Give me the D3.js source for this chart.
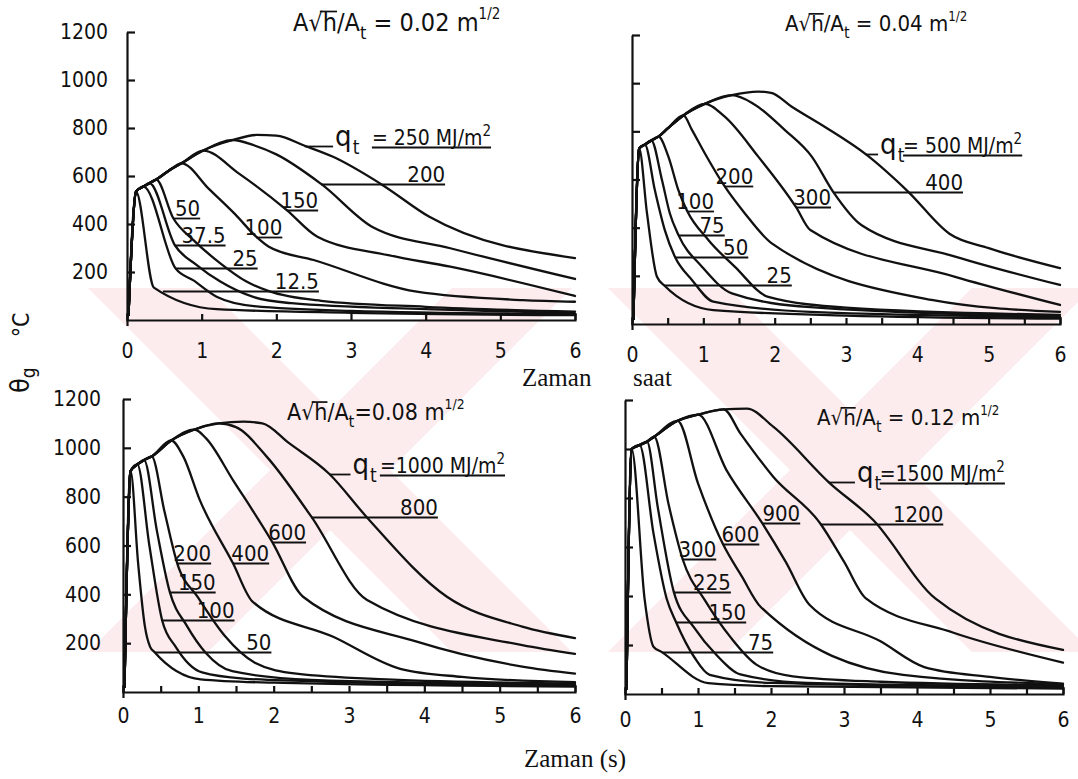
<!DOCTYPE html>
<html>
<head>
<meta charset="utf-8">
<script src="https://cdn.jsdelivr.net/npm/d3@7"></script>
<style>
  body { margin: 0; background: #fff; }
  svg { display: block; }
  .lab { font-family: 'DejaVu Sans Condensed', 'DejaVu Sans', sans-serif; font-stretch: condensed; fill: #111; }
  .serif { font-family: 'Liberation Serif', 'DejaVu Serif', serif; fill: #111; }
</style>
</head>
<body>
<svg id="chart" width="1078" height="779"></svg>
<script>
// time axis (hours) and temperature axis (°C)
const hourTicks = [0, 1, 2, 3, 4, 5, 6];
const tempTicks = [200, 400, 600, 800, 1000, 1200];

// ---- panel A: opening factor 0.02 ----
const ratioA = ' = 0.02 m';
const envA = [[0.02, 20], [0.12, 535], [0.22, 556], [0.30, 570], [0.39, 585], [0.55, 620], [0.73, 653], [1.02, 706], [1.42, 750], [1.74, 771]];
const curvesA = [
  { q: '12.5', pts: [[0.12, 535], [0.36, 135], [1.2, 45], [3, 30], [6, 20]] },
  { q: '25', pts: [[0.22, 556], [0.65, 215], [0.89, 165], [1.2, 97], [1.7, 58], [3, 38], [6, 24]] },
  { q: '37.5', pts: [[0.30, 570], [0.64, 312], [0.93, 230], [1.25, 160], [1.7, 95], [2.2, 70], [4, 45], [6, 28]] },
  { q: '50', pts: [[0.39, 585], [0.62, 424], [0.89, 333], [1.25, 236], [1.6, 160], [1.9, 120], [2.6, 80], [4, 55], [6, 35]] },
  { q: '100', pts: [[0.73, 653], [1.1, 545], [1.45, 440], [1.73, 347], [1.9, 305], [2.5, 250], [3.88, 118], [5.3, 83], [6, 76]] },
  { q: '150', pts: [[1.02, 706], [1.5, 610], [2.14, 458], [2.55, 347], [3.5, 270], [4.33, 222], [6, 100]] },
  { q: '200', pts: [[1.42, 750], [1.7, 728], [2.0, 690], [2.6, 567], [3.3, 385], [4.33, 299], [6, 171]] },
  { q: '250', pts: [[1.74, 771], [2.0, 768], [2.38, 726], [2.76, 680], [3.41, 565], [4.05, 430], [6, 258]] }
];
const labelsA = [
  { q: '200', T: 567, t1: 4.26 }, { q: '150', T: 458, t1: 2.56 }, { q: '100', T: 347, t1: 2.08 },
  { q: '50', T: 424, t1: 0.98 }, { q: '37.5', T: 312, t1: 1.32 }, { q: '25', T: 215, t1: 1.75 },
  { q: '12.5', T: 122, t1: 2.57 }
];
const qA = { q: '250', T: 726, tq: 2.76, teq: 3.28, text: '= 250 MJ/m' };

// ---- panel B: opening factor 0.04 ----
const ratioB = ' = 0.04 m';
const envB = [[0.02, 20], [0.10, 728], [0.18, 745], [0.27, 762], [0.37, 778], [0.5, 812], [0.72, 866], [1.02, 914], [1.40, 950], [1.77, 965]];
const curvesB = [
  { q: '25', pts: [[0.10, 728], [0.21, 460], [0.35, 196], [0.46, 158], [1.14, 58], [3, 35], [6, 22]] },
  { q: '50', pts: [[0.18, 745], [0.32, 556], [0.46, 390], [0.60, 280], [0.84, 183], [1.14, 93], [2.5, 50], [6, 28]] },
  { q: '75', pts: [[0.27, 762], [0.42, 598], [0.53, 460], [0.65, 370], [0.98, 238], [1.40, 127], [2.5, 70], [6, 32]] },
  { q: '100', pts: [[0.37, 778], [0.51, 695], [0.65, 556], [0.77, 471], [1.07, 349], [1.44, 238], [1.91, 113], [3, 68], [6, 38]] },
  { q: '200', pts: [[0.72, 866], [0.84, 806], [1.02, 709], [1.30, 571], [1.58, 460], [1.96, 335], [4.2, 100], [6, 50]] },
  { q: '300', pts: [[1.02, 914], [1.30, 861], [1.77, 695], [2.30, 485], [2.5, 390], [4.53, 196], [6, 79]] },
  { q: '400', pts: [[1.40, 950], [1.7, 915], [2.14, 806], [2.52, 695], [2.82, 549], [3.22, 410], [4.53, 280], [6, 162]] },
  { q: '500', pts: [[1.77, 965], [1.95, 960], [2.24, 902], [2.7, 819], [3.29, 702], [3.87, 550], [4.45, 375], [5, 315], [6, 232]] }
];
const labelsB = [
  { q: '400', T: 549, t1: 4.64 }, { q: '300', T: 485, t1: 2.79 }, { q: '200', T: 571, t1: 1.70 },
  { q: '100', T: 471, t1: 1.15 }, { q: '75', T: 370, t1: 1.30 }, { q: '50', T: 280, t1: 1.63 },
  { q: '25', T: 160, t1: 2.24 }
];
const qB = { q: '500', T: 705, tq: 3.45, teq: 3.8, text: '= 500 MJ/m' };

// ---- panel C: opening factor 0.08 ----
const ratioC = '=0.08 m';
const envC = [[0.02, 20], [0.10, 905], [0.19, 932], [0.28, 950], [0.38, 965], [0.64, 1030], [0.95, 1075], [1.27, 1100], [1.6, 1107]];
const curvesC = [
  { q: '50', pts: [[0.10, 905], [0.2, 530], [0.29, 270], [0.36, 185], [0.42, 163], [1.03, 52], [2, 38], [6, 22]] },
  { q: '100', pts: [[0.19, 932], [0.35, 600], [0.52, 293], [0.7, 185], [1.05, 80], [1.6, 55], [3, 40], [6, 26]] },
  { q: '150', pts: [[0.28, 950], [0.45, 660], [0.62, 411], [0.85, 270], [1.1, 160], [1.45, 85], [2.5, 50], [6, 30]] },
  { q: '200', pts: [[0.38, 965], [0.55, 740], [0.72, 527], [1.0, 385], [1.35, 230], [1.75, 120], [2.3, 75], [3.5, 52], [6, 35]] },
  { q: '400', pts: [[0.64, 1030], [0.8, 965], [1.02, 786], [1.46, 527], [1.72, 370], [2.79, 226], [3.68, 95], [4.5, 62], [6, 40]] },
  { q: '600', pts: [[0.95, 1075], [1.1, 1040], [1.46, 868], [1.98, 615], [2.39, 390], [3.9, 206], [5.3, 104], [6, 75]] },
  { q: '800', pts: [[1.27, 1100], [1.5, 1085], [1.91, 963], [2.5, 718], [3.24, 377], [5.3, 192], [6, 156]] },
  { q: '1000', pts: [[1.6, 1107], [1.85, 1100], [2.2, 1020], [2.74, 893], [3.23, 718], [4.3, 390], [5.3, 268], [6, 221]] }
];
const labelsC = [
  { q: '800', T: 718, t1: 4.18 }, { q: '600', T: 615, t1: 2.43 }, { q: '400', T: 527, t1: 1.94 },
  { q: '200', T: 527, t1: 1.17 }, { q: '150', T: 411, t1: 1.23 }, { q: '100', T: 295, t1: 1.48 },
  { q: '50', T: 162, t1: 1.97 }
];
const qC = { q: '1000', T: 893, tq: 3.02, teq: 3.41, text: '=1000 MJ/m' };

// ---- panel D: opening factor 0.12 ----
const ratioD = ' = 0.12 m';
const envD = [[0.02, 20], [0.09, 1000], [0.2, 1016], [0.3, 1030], [0.4, 1050], [0.72, 1115], [1.0, 1140], [1.35, 1162], [1.67, 1165]];
const curvesD = [
  { q: '75', pts: [[0.09, 1000], [0.27, 384], [0.39, 193], [0.5, 172], [1.14, 44], [2, 32], [6, 22]] },
  { q: '150', pts: [[0.2, 1016], [0.39, 656], [0.57, 390], [0.70, 293], [0.95, 150], [1.16, 78], [2, 45], [6, 28]] },
  { q: '225', pts: [[0.3, 1030], [0.45, 760], [0.67, 415], [0.95, 270], [1.25, 160], [1.58, 80], [2.5, 45], [6, 30]] },
  { q: '300', pts: [[0.4, 1050], [0.6, 770], [0.79, 550], [1.1, 380], [1.45, 230], [1.8, 120], [2.3, 72], [3.5, 50], [6, 35]] },
  { q: '600', pts: [[0.72, 1115], [1.0, 860], [1.34, 613], [1.6, 480], [1.86, 355], [3.81, 78], [6, 40]] },
  { q: '900', pts: [[1.0, 1140], [1.39, 914], [1.88, 697], [2.2, 540], [2.53, 363], [3.5, 215], [4.1, 110], [5, 70], [6, 42]] },
  { q: '1200', pts: [[1.35, 1162], [1.58, 1064], [2.03, 887], [2.68, 694], [3.0, 540], [3.3, 390], [4.5, 250], [6, 128]] },
  { q: '1500', pts: [[1.67, 1165], [2.03, 1091], [2.8, 862], [3.40, 710], [4.25, 390], [6, 180]] }
];
const labelsD = [
  { q: '1200', T: 694, t1: 4.36 }, { q: '900', T: 697, t1: 2.40 }, { q: '600', T: 613, t1: 1.84 },
  { q: '300', T: 550, t1: 1.25 }, { q: '225', T: 415, t1: 1.45 }, { q: '150', T: 293, t1: 1.66 },
  { q: '75', T: 170, t1: 2.03 }
];
const qD = { q: '1500', T: 864, tq: 3.15, teq: 3.49, text: '=1500 MJ/m' };

const svg = d3.select('#chart');
const INK = '#111';
const FONT = "'DejaVu Sans Condensed','DejaVu Sans',sans-serif";

// faint pink watermark behind the plots
const defs = svg.append('defs');
defs.append('clipPath').attr('id', 'wm-clip')
  .append('rect').attr('x', 0).attr('y', 288).attr('width', 1078).attr('height', 364);
const wm = svg.append('g').attr('clip-path', 'url(#wm-clip)');
[[330, 470], [850, 470]].forEach(([cx, cy]) => {
  [1, -1].forEach(s => {
    wm.append('line')
      .attr('x1', cx - 260).attr('y1', cy - 260 * s)
      .attr('x2', cx + 260).attr('y2', cy + 260 * s)
      .attr('stroke', '#fcecee').attr('stroke-width', 85);
  });
});

const panels = [
  { x0: 127, x1: 575, y0: 320, y1: 32, env: envA, curves: curvesA, labels: labelsA, ql: qA, ratio: ratioA, yText: true, half: false, tx: 293, ty: 31, fs: 25, labY: 358, pad: 19 },
  { x0: 632, x1: 1060, y0: 324, y1: 35, env: envB, curves: curvesB, labels: labelsB, ql: qB, ratio: ratioB, yText: false, half: true, tx: 785, ty: 31, fs: 22, labY: 362, pad: 19 },
  { x0: 123, x1: 575, y0: 692, y1: 399, env: envC, curves: curvesC, labels: labelsC, ql: qC, ratio: ratioC, yText: true, half: true, tx: 287, ty: 420, fs: 23, labY: 723, pad: 22 },
  { x0: 625, x1: 1063, y0: 694, y1: 400, env: envD, curves: curvesD, labels: labelsD, ql: qD, ratio: ratioD, yText: false, half: true, tx: 817, ty: 425, fs: 22, labY: 727, pad: 19 }
];

// time at which a falling curve passes temperature T
function crossing(pts, T) {
  for (let i = 0; i < pts.length - 1; i++) {
    const a = pts[i], b = pts[i + 1];
    if ((a[1] - T) * (b[1] - T) <= 0 && a[1] !== b[1]) {
      return a[0] + (T - a[1]) / (b[1] - a[1]) * (b[0] - a[0]);
    }
  }
  return pts[0][0];
}

function styleAxis(sel) {
  sel.attr('font-family', FONT).attr('font-size', 21).style('font-stretch', 'condensed');
  sel.selectAll('path, line').attr('stroke', INK).attr('stroke-width', 2.2);
  sel.selectAll('text').attr('fill', INK);
}

panels.forEach(p => {
  const x = d3.scaleLinear().domain([0, 6]).range([p.x0, p.x1]);
  const y = d3.scaleLinear().domain([0, 1200]).range([p.y0, p.y1]);
  const g = svg.append('g');

  // axes: inward ticks, closed end at 6 h, numbers outside
  const minor = p.half ? d3.range(0, 6.01, 0.5) : hourTicks;
  g.append('g').attr('transform', `translate(0,${p.y0})`)
    .call(d3.axisBottom(x).tickValues(minor).tickSize(-6).tickSizeOuter(-7).tickFormat(''))
    .call(styleAxis);
  g.append('g').attr('transform', `translate(0,${p.y0})`)
    .call(d3.axisBottom(x).tickValues(hourTicks).tickSize(0).tickPadding(p.labY - p.y0 - 15).tickFormat(d3.format('d')))
    .call(styleAxis)
    .call(a => a.select('.domain').remove());
  g.append('g').attr('transform', `translate(${p.x0},0)`)
    .call(d3.axisLeft(y).tickValues(tempTicks).tickSize(-8).tickSizeOuter(0).tickPadding(p.pad)
      .tickFormat(p.yText ? d3.format('d') : ''))
    .call(styleAxis);
  // y axis runs a little past the time axis
  g.append('line').attr('x1', p.x0 + 0.5).attr('x2', p.x0 + 0.5).attr('y1', p.y0).attr('y2', p.y0 + 6)
    .attr('stroke', INK).attr('stroke-width', 2.2);

  // temperature-time curves: shared heating branch, then each decay branch
  const line = d3.line().x(d => x(d[0])).y(d => y(d[1])).curve(d3.curveMonotoneX);
  p.curves.forEach(c => {
    const peak = c.pts[0][0];
    const pts = p.env.filter(e => e[0] < peak - 1e-6).concat(c.pts);
    g.append('path').attr('d', line(pts))
      .attr('fill', 'none').attr('stroke', INK).attr('stroke-width', 2.3)
      .attr('stroke-linejoin', 'round').attr('stroke-linecap', 'round');
  });

  // fire-load labels with leader lines
  p.labels.forEach(l => {
    const c = p.curves.find(k => k.q === l.q);
    const t0 = crossing(c.pts, l.T);
    const yy = Math.round(y(l.T)) + 0.5;
    g.append('line').attr('x1', x(t0)).attr('x2', x(l.t1)).attr('y1', yy).attr('y2', yy)
      .attr('stroke', INK).attr('stroke-width', 1.8);
    g.append('text').attr('class', 'lab').attr('x', x(l.t1)).attr('y', yy - 3)
      .attr('text-anchor', 'end').attr('font-size', 22).text(l.q);
  });

  // q_t label on the largest fire load
  const ql = p.ql;
  const cq = p.curves.find(k => k.q === ql.q);
  const tq0 = crossing(cq.pts, ql.T);
  const yq = Math.round(y(ql.T)) + 0.5;
  g.append('line').attr('x1', x(tq0)).attr('x2', x(ql.tq)).attr('y1', yq).attr('y2', yq)
    .attr('stroke', INK).attr('stroke-width', 1.8);
  const qt = g.append('text').attr('class', 'lab').attr('x', x(ql.tq) + 2).attr('y', yq - 1).attr('font-size', 29);
  qt.append('tspan').text('q');
  qt.append('tspan').attr('font-size', 19).attr('dy', 8).attr('dx', 1).text('t');
  const eq = g.append('text').attr('class', 'lab').attr('x', x(ql.teq)).attr('y', yq - 2).attr('font-size', 21);
  eq.append('tspan').text(ql.text);
  eq.append('tspan').attr('font-size', 15).attr('dy', -9).text('2');
  const eqLen = eq.node().getComputedTextLength();
  g.append('line').attr('x1', x(ql.teq)).attr('x2', x(ql.teq) + eqLen).attr('y1', yq + 1).attr('y2', yq + 1)
    .attr('stroke', INK).attr('stroke-width', 1.8);

  // panel title A√h / A_t
  const fs = p.fs;
  const tt = g.append('text').attr('class', 'lab').attr('x', p.tx).attr('y', p.ty).attr('font-size', fs);
  tt.append('tspan').text('A\u221Ah/A');
  tt.append('tspan').attr('font-size', fs * 0.72).attr('dy', fs * 0.3).text('t');
  tt.append('tspan').attr('dy', -fs * 0.3).text(p.ratio);
  tt.append('tspan').attr('font-size', fs * 0.6).attr('dy', -fs * 0.47).text('1/2');
  const n = tt.node();
  const e1 = n.getExtentOfChar(1), e2 = n.getExtentOfChar(2);
  g.append('line').attr('x1', e1.x + e1.width * 0.8).attr('x2', e2.x + e2.width)
    .attr('y1', p.ty - fs * 0.78).attr('y2', p.ty - fs * 0.78)
    .attr('stroke', INK).attr('stroke-width', 1.7);
});

// shared axis titles
const yt = svg.append('text').attr('class', 'lab').attr('transform', 'translate(29,393) rotate(-90)').attr('font-size', 27);
yt.append('tspan').text('\u03B8');
yt.append('tspan').attr('font-size', 19).attr('dy', 6).text('g');
yt.append('tspan').attr('font-size', 23).attr('dy', -6).attr('dx', 30).text('\u00B0C');

svg.append('text').attr('class', 'serif').attr('x', 522).attr('y', 386).attr('font-size', 25).text('Zaman');
svg.append('text').attr('class', 'serif').attr('x', 633).attr('y', 386).attr('font-size', 25).text('saat');
svg.append('text').attr('class', 'serif').attr('x', 524).attr('y', 767).attr('font-size', 25).text('Zaman (s)');
</script>
</body>
</html>
